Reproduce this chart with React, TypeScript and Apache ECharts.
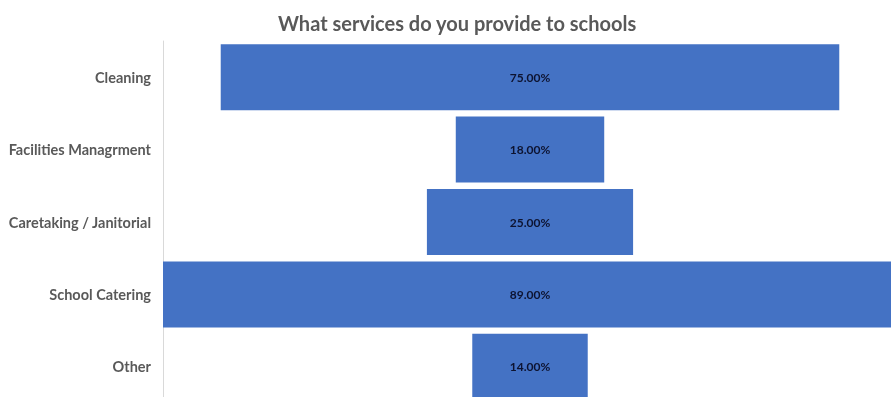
import React, { useEffect, useRef } from "react";
import * as echarts from "echarts";

const categories = ["Cleaning", "Facilities Managrment", "Caretaking / Janitorial", "School Catering", "Other"];
const values = [75, 18, 25, 89, 14];
const axisMax = 89;

export default function App() {
  const ref = useRef<HTMLDivElement>(null);
  useEffect(() => {
    if (!ref.current) return;
    const chart = echarts.init(ref.current, undefined, { renderer: "svg" });
    const offsets = values.map((v) => (axisMax - v) / 2);
    chart.setOption({
      animation: false,
      title: {
        text: "What services do you provide to schools",
        left: 273,
        top: 8,
        textStyle: { fontFamily: "Lato", fontSize: 20, fontWeight: "bold", color: "#595959" },
      },
      grid: { left: 163, top: 41, width: 734, height: 362, containLabel: false },
      xAxis: { type: "value", min: 0, max: axisMax, show: false },
      yAxis: {
        type: "category",
        data: categories,
        inverse: true,
        axisLine: { show: true, lineStyle: { color: "#d9d9d9", width: 1 } },
        axisTick: { show: false },
        axisLabel: { margin: 12, fontFamily: "Lato", fontWeight: "bold", fontSize: 14.5, color: "#595959" },
      },
      series: [
        {
          type: "bar",
          stack: "f",
          data: offsets,
          itemStyle: { color: "transparent" },
          barWidth: 66,
          silent: true,
        },
        {
          type: "bar",
          stack: "f",
          data: values,
          barWidth: 66,
          itemStyle: { color: "#4472C4" },
          label: {
            show: true,
            position: "inside",
            formatter: (p: any) => p.value.toFixed(2) + "%",
            fontFamily: "Lato",
            fontWeight: "bold",
            fontSize: 12,
            color: "#0d1330",
          },
        },
      ],
    });
    return () => chart.dispose();
  }, []);
  return (
    <div style={{ position: "fixed", left: 0, top: 0, width: 891, height: 397, overflow: "hidden" }}>
      <div ref={ref} style={{ width: 900, height: 410 }} />
    </div>
  );
}
